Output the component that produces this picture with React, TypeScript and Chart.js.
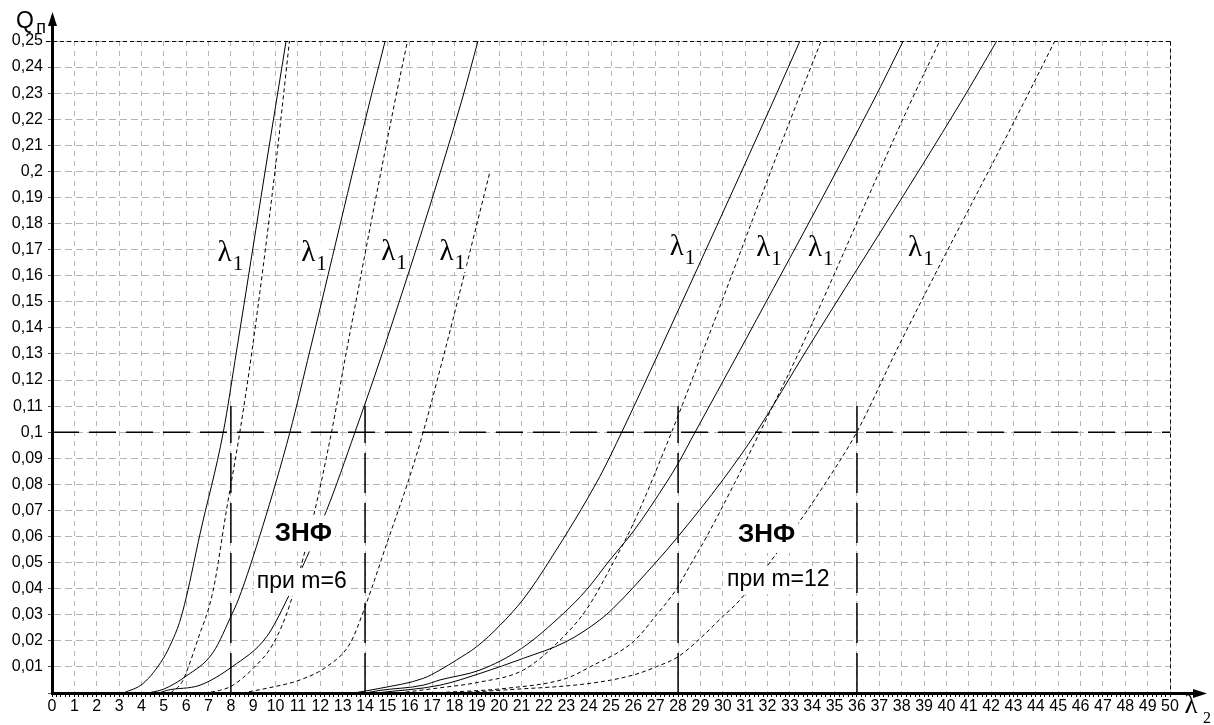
import React, { useEffect, useRef } from "react";
import { Chart, registerables } from "chart.js";

Chart.register(...registerables);

// ---- axis ranges / ticks ----
const X_MIN = 0;
const X_MAX = 50;
const X_MINOR_STEP = 0.2;
const Y_MIN = 0;
const Y_MAX = 0.25;
const Y_STEP = 0.01;

// ---- curves, group m = 6 ----
const xS6a = [3.2, 4.08, 4.98, 5.35, 5.7, 6.0, 6.62, 7.66, 8.26, 9.53, 10.47];
const qS6a = [0, 0.0037, 0.0133, 0.0195, 0.027, 0.0365, 0.061, 0.1, 0.1315, 0.2, 0.25];
const xD6a = [5.3, 5.8, 6.1, 6.5, 7.2, 7.8, 8.4, 8.95, 9.97, 10.62];
const qD6a = [0, 0.004, 0.01, 0.02, 0.039, 0.07, 0.1, 0.1315, 0.2, 0.25];
const xS6b = [4.3, 5.0, 6.0, 7.2, 8.06, 8.33, 9.42, 10.64, 11.54, 14.22, 14.9];
const qS6b = [0, 0.0015, 0.0065, 0.0155, 0.0305, 0.0357, 0.0638, 0.1, 0.1315, 0.227, 0.25];
const xD6b = [6.8, 7.5, 8.06, 9.0, 9.9, 10.64, 11.69, 12.5, 13.18, 15.34, 15.9];
const qD6b = [0, 0.001, 0.0028, 0.0095, 0.019, 0.034, 0.0676, 0.1, 0.1315, 0.227, 0.25];
const xS6c = [4.8, 5.13, 6.62, 8.06, 9.6, 10.5, 12.28, 13.55, 14.82, 18.32, 19.05];
const qS6c = [0, 0.001, 0.003, 0.0101, 0.0216, 0.0357, 0.07, 0.1, 0.1315, 0.227, 0.25];
const xD6c = [8.5, 9.6, 11.09, 12.28, 13.33, 14.0, 15.0, 16.0, 16.6, 17.58, 19.59];
const qD6c = [0, 0.0018, 0.005, 0.0101, 0.019, 0.033, 0.058, 0.083, 0.1, 0.1315, 0.2];

// ---- curves, group m = 12 ----
const xS12a = [13.5, 14.67, 16.6, 17.35, 18.1, 19.0, 20.04, 21.08, 22.27, 24.5, 25.48, 27.19, 32.26, 33.45];
const qS12a = [0, 0.0018, 0.0056, 0.0088, 0.0127, 0.0178, 0.026, 0.036, 0.051, 0.083, 0.1, 0.1315, 0.227, 0.25];
const xD12a = [15.5, 17.35, 19.0, 21.08, 22.57, 23.9, 25.1, 26.0, 27.71, 29.13, 33.3, 34.4];
const qD12a = [0, 0.002, 0.004, 0.0088, 0.019, 0.032, 0.05, 0.065, 0.1, 0.1315, 0.226, 0.25];
const xS12b = [14.0, 14.67, 16.6, 17.35, 19.14, 21.0, 22.87, 23.9, 24.95, 26.0, 27.5, 28.0, 28.76, 30.77, 36.73, 38.07];
const qS12b = [0, 0.001, 0.003, 0.005, 0.0088, 0.0171, 0.0305, 0.0395, 0.051, 0.062, 0.081, 0.088, 0.1, 0.1315, 0.227, 0.25];
const xD12b = [17.0, 20.3, 23.0, 24.06, 26.0, 27.04, 27.94, 28.5, 29.28, 30.6, 31.66, 33.45, 38.37, 39.7];
const qD12b = [0, 0.0018, 0.0056, 0.01, 0.0197, 0.03, 0.04, 0.0484, 0.06, 0.0817, 0.1, 0.1315, 0.226, 0.25];
const xS12c = [14.5, 17.35, 19.14, 21.08, 23.0, 24.5, 25.1, 27.1, 28.0, 30.0, 31.5, 33.75, 40.68, 42.25];
const qS12c = [0, 0.003, 0.0075, 0.0133, 0.0197, 0.028, 0.0325, 0.051, 0.06, 0.0817, 0.1, 0.1315, 0.227, 0.25];
const xD12c = [18.0, 20.3, 24.06, 26.0, 27.04, 28.0, 28.83, 30.0, 30.77, 33.45, 34.4, 35.99, 37.85, 43.44, 44.85];
const qD12c = [0, 0.0012, 0.0037, 0.0069, 0.0101, 0.0139, 0.0197, 0.0293, 0.0357, 0.066, 0.078, 0.1, 0.1328, 0.226, 0.25];

// ---- reference lines ----
const refLevel = 0.1;
const refVerticalX = [8, 14, 28, 36];
const refVerticalTop = 0.11;

// ---- text annotations (data coordinates) ----
const lambdaX = [7.72, 11.46, 15.04, 17.65, 27.94, 31.81, 34.12, 38.6];
const lambdaQ = [0.1685, 0.1685, 0.1691, 0.1691, 0.171, 0.1704, 0.1704, 0.1704];
const zoneTitle = "ЗНФ";
const zoneTitleX = [11.24, 31.96];
const zoneTitleQ = [0.0612, 0.0606];
const zoneNotes = ["при m=6", "при m=12"];
const zoneNoteX = [11.17, 32.48];
const zoneNoteQ = [0.0426, 0.0433];

const SANS = '"Liberation Sans", Arial, sans-serif';
const SERIF = '"Liberation Serif", "Times New Roman", serif';

const curveSets = [
  { xs: xS6a, ys: qS6a, dashed: false },
  { xs: xD6a, ys: qD6a, dashed: true },
  { xs: xS6b, ys: qS6b, dashed: false },
  { xs: xD6b, ys: qD6b, dashed: true },
  { xs: xS6c, ys: qS6c, dashed: false },
  { xs: xD6c, ys: qD6c, dashed: true },
  { xs: xS12a, ys: qS12a, dashed: false },
  { xs: xD12a, ys: qD12a, dashed: true },
  { xs: xS12b, ys: qS12b, dashed: false },
  { xs: xD12b, ys: qD12b, dashed: true },
  { xs: xS12c, ys: qS12c, dashed: false },
  { xs: xD12c, ys: qD12c, dashed: true },
];

const isInt = (v: number) => Math.abs(v - Math.round(v)) < 1e-6;

const decorPlugin = {
  id: "decor",
  afterDatasetsDraw(chart: any) {
    const { ctx, scales } = chart;
    const xs = scales.x;
    const ys = scales.y;
    const px = (v: number) => xs.getPixelForValue(v);
    const py = (v: number) => ys.getPixelForValue(v);
    ctx.save();

    // dashed frame at top and right
    ctx.strokeStyle = "#000";
    ctx.lineWidth = 1;
    ctx.setLineDash([4, 3]);
    const yt = Math.round(py(Y_MAX)) + 0.5;
    const xr = Math.round(px(X_MAX)) + 0.5;
    ctx.beginPath();
    ctx.moveTo(px(X_MIN) - 6, yt);
    ctx.lineTo(xr, yt);
    ctx.stroke();
    ctx.beginPath();
    ctx.moveTo(xr, yt);
    ctx.lineTo(xr, py(Y_MIN));
    ctx.stroke();
    ctx.setLineDash([]);

    // zone labels on white boxes
    const boxed = (text: string, cx: number, cy: number, font: string, boxH: number) => {
      ctx.font = font;
      const w = ctx.measureText(text).width;
      ctx.fillStyle = "#fff";
      ctx.fillRect(cx - w / 2 - 3, cy - boxH / 2, w + 6, boxH);
      ctx.fillStyle = "#000";
      ctx.textAlign = "center";
      ctx.textBaseline = "middle";
      ctx.fillText(text, cx, cy);
    };
    zoneTitleX.forEach((v, i) => boxed(zoneTitle, px(v), py(zoneTitleQ[i]), `bold 26px ${SANS}`, 36));
    zoneNotes.forEach((t, i) => boxed(t, px(zoneNoteX[i]), py(zoneNoteQ[i]), `23px ${SANS}`, 28));

    // lambda_1 labels
    lambdaX.forEach((v, i) => {
      const cx = px(v);
      const cy = py(lambdaQ[i]);
      ctx.font = `29px ${SERIF}`;
      const wl = ctx.measureText("λ").width;
      ctx.font = `21px ${SERIF}`;
      const w1 = ctx.measureText("1").width;
      ctx.fillStyle = "#fff";
      ctx.fillRect(cx - wl / 2 - 1, cy - 12, wl + w1 + 3, 32);
      ctx.fillStyle = "#000";
      ctx.textAlign = "center";
      ctx.textBaseline = "middle";
      ctx.font = `29px ${SERIF}`;
      ctx.fillText("λ", cx, cy);
      ctx.textAlign = "left";
      ctx.font = `21px ${SERIF}`;
      ctx.fillText("1", cx + wl / 2 + 1, cy + 11);
    });

    // axis arrows
    const x0 = px(X_MIN);
    const y0 = py(Y_MIN);
    ctx.fillStyle = "#000";
    ctx.strokeStyle = "#000";
    ctx.lineWidth = 3;
    ctx.beginPath();
    ctx.moveTo(x0 + 0.5, py(Y_MAX));
    ctx.lineTo(x0 + 0.5, 22);
    ctx.stroke();
    ctx.beginPath();
    ctx.moveTo(x0 + 0.5, 12);
    ctx.lineTo(x0 - 4, 26);
    ctx.lineTo(x0 + 5, 26);
    ctx.closePath();
    ctx.fill();
    ctx.beginPath();
    ctx.moveTo(px(X_MAX), y0 + 0.5);
    ctx.lineTo(1196, y0 + 0.5);
    ctx.stroke();
    ctx.beginPath();
    ctx.moveTo(1207, y0 + 0.5);
    ctx.lineTo(1193, y0 - 4);
    ctx.lineTo(1193, y0 + 5);
    ctx.closePath();
    ctx.fill();

    // axis titles
    ctx.textBaseline = "middle";
    ctx.textAlign = "center";
    ctx.font = `23px ${SANS}`;
    ctx.fillText("Q", 25, 22);
    ctx.font = `18px ${SANS}`;
    ctx.fillText("п", 41, 28);
    ctx.font = `27px ${SERIF}`;
    ctx.fillText("λ", 1191, 706);
    ctx.font = `16px ${SERIF}`;
    ctx.fillText("2", 1207, 719);

    ctx.restore();
  },
};

export default function App() {
  const canvasRef = useRef<HTMLCanvasElement | null>(null);

  useEffect(() => {
    document.body.style.margin = "0";
    const canvas = canvasRef.current;
    if (!canvas) return;

    const datasets: any[] = curveSets.map((c) => ({
      data: c.xs.map((x, i) => ({ x, y: c.ys[i] })),
      borderColor: "#000",
      borderWidth: 1,
      borderDash: c.dashed ? [4, 3] : [],
      pointRadius: 0,
      fill: false,
      cubicInterpolationMode: "monotone",
    }));

    datasets.push({
      data: [
        { x: X_MIN, y: refLevel },
        { x: X_MAX, y: refLevel },
      ],
      borderColor: "#000",
      borderWidth: 1.5,
      borderDash: [27, 10],
      pointRadius: 0,
      fill: false,
      tension: 0,
    });
    refVerticalX.forEach((vx) => {
      datasets.push({
        data: [
          { x: vx, y: Y_MIN },
          { x: vx, y: refVerticalTop },
        ],
        borderColor: "#000",
        borderWidth: 1.5,
        borderDash: [40, 10],
        pointRadius: 0,
        fill: false,
        tension: 0,
      });
    });

    const chart = new Chart(canvas, {
      type: "line",
      data: { datasets },
      plugins: [decorPlugin],
      options: {
        animation: false,
        responsive: false,
        devicePixelRatio: 1,
        layout: { padding: { top: 41, right: 44, bottom: 0, left: 0 } },
        plugins: { legend: { display: false }, tooltip: { enabled: false } },
        scales: {
          x: {
            type: "linear",
            min: X_MIN,
            max: X_MAX,
            afterFit: (s: any) => {
              s.height = 32;
            },
            ticks: {
              stepSize: X_MINOR_STEP,
              autoSkip: false,
              maxRotation: 0,
              minRotation: 0,
              padding: 0,
              color: "#000",
              font: { family: SANS, size: 16 },
              callback: (v: any) => (isInt(Number(v)) ? String(Math.round(Number(v))) : ""),
            },
            grid: {
              color: (c: any) => (c.tick && isInt(c.tick.value) ? "#b4b4b4" : "rgba(0,0,0,0)"),
              lineWidth: 1,
              tickLength: 4,
              tickColor: "#000",
              tickWidth: 1,
              tickBorderDash: [],
            },
            border: { display: true, color: "#000", width: 3, dash: [5, 5] },
          },
          y: {
            type: "linear",
            min: Y_MIN,
            max: Y_MAX,
            afterFit: (s: any) => {
              s.width = 52;
            },
            ticks: {
              stepSize: Y_STEP,
              autoSkip: false,
              padding: 5,
              color: "#000",
              font: { family: SANS, size: 16 },
              callback: (v: any) => {
                const n = Number(v);
                if (n < 1e-9) return "";
                return n.toFixed(2).replace(/0+$/, "").replace(".", ",");
              },
            },
            grid: {
              color: "#b4b4b4",
              lineWidth: 1,
              tickLength: 4,
              tickColor: "#555",
              tickWidth: 1,
              tickBorderDash: [],
            },
            border: { display: true, color: "#000", width: 3, dash: [7, 4] },
          },
        },
      } as any,
    });

    return () => chart.destroy();
  }, []);

  return (
    <div style={{ position: "absolute", left: 0, top: 0, width: 1214, height: 725, background: "#fff" }}>
      <canvas ref={canvasRef} width={1214} height={725} style={{ display: "block" }} />
    </div>
  );
}
